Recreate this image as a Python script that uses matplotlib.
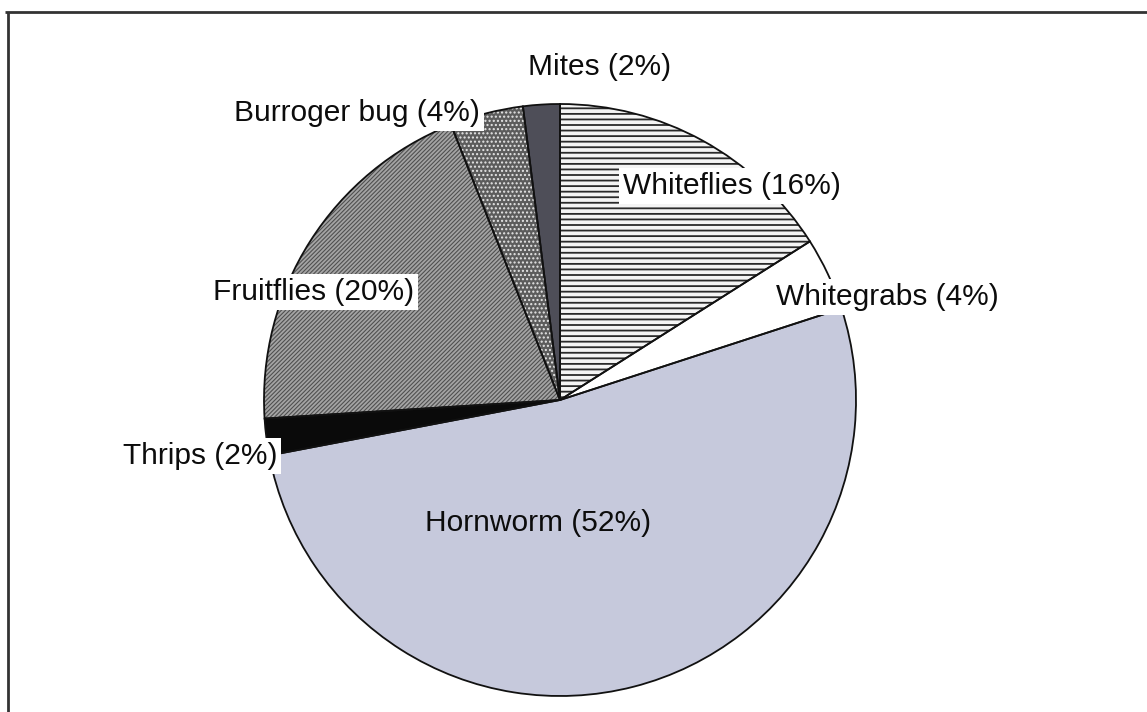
import matplotlib
matplotlib.use("Agg")
import matplotlib.pyplot as plt

plt.rcParams["font.family"] = ["Liberation Sans", "DejaVu Sans"]
plt.rcParams["hatch.linewidth"] = 0.9

# Share of pest damage by insect group (clockwise from 12 o'clock)
pests = ["Whiteflies", "Whitegrabs", "Hornworm", "Thrips",
         "Fruitflies", "Burroger bug", "Mites"]
shares = [16, 4, 52, 2, 20, 4, 2]

face_colors = ["#f4f4f4", "white", "#C6C9DC", "#0a0a0a",
               "#a4a4a4", "#5c5c5c", "#4E4E58"]
hatches = ["---", None, None, None, "////////", "....", None]
hatch_colors = ["#2a2a2a", "white", "#C6C9DC", "#0a0a0a",
                "#505050", "#e6e6e6", "#4E4E58"]
hatch_widths = [1.3, 1.0, 1.0, 1.0, 0.8, 1.0, 1.0]

# label anchor points (pixel space, y measured from top) and whether boxed
label_pos = {
    "Whiteflies": (732, 186, True),
    "Whitegrabs": (887, 297, True),
    "Hornworm": (538, 523, False),
    "Thrips": (200, 456, True),
    "Fruitflies": (314, 292, True),
    "Burroger bug": (357, 113, True),
    "Mites": (600, 67, False),
}

W, H = 1147, 712
fig = plt.figure(figsize=(W / 100, H / 100), dpi=100)
ax = fig.add_axes([0, 0, 1, 1])

cx, cy, r = 560, H - 400, 296

# fill + hatch layer
wedges, _ = ax.pie(shares, startangle=90, counterclock=False,
                   center=(cx, cy), radius=r, colors=face_colors)
for w, h, hc, hw in zip(wedges, hatches, hatch_colors, hatch_widths):
    w.set_edgecolor(hc)
    w.set_linewidth(0)
    if h:
        w.set_hatch(h)
        if hasattr(w, "set_hatch_linewidth"):
            w.set_hatch_linewidth(hw)

# outline layer
ax.pie(shares, startangle=90, counterclock=False,
       center=(cx, cy), radius=r,
       wedgeprops=dict(fill=False, edgecolor="#111111", linewidth=1.3))

for name, pct in zip(pests, shares):
    x, y, boxed = label_pos[name]
    kw = {}
    if boxed:
        kw["bbox"] = dict(boxstyle="square,pad=0.12", fc="white", ec="none")
    ax.text(x, H - y, f"{name} ({pct}%)", ha="center", va="center",
            fontsize=21.5, color="#0c0c0c", **kw)

# outer frame (top and left edges)
ax.plot([5, W], [H - 12, H - 12], color="#333333", lw=2, solid_capstyle="butt")
ax.plot([8, 8], [H - 12, 0], color="#333333", lw=2, solid_capstyle="butt")

ax.set_xlim(0, W)
ax.set_ylim(0, H)
ax.set_aspect("equal")
ax.axis("off")

fig.savefig("out.png", dpi=100, facecolor="white")
